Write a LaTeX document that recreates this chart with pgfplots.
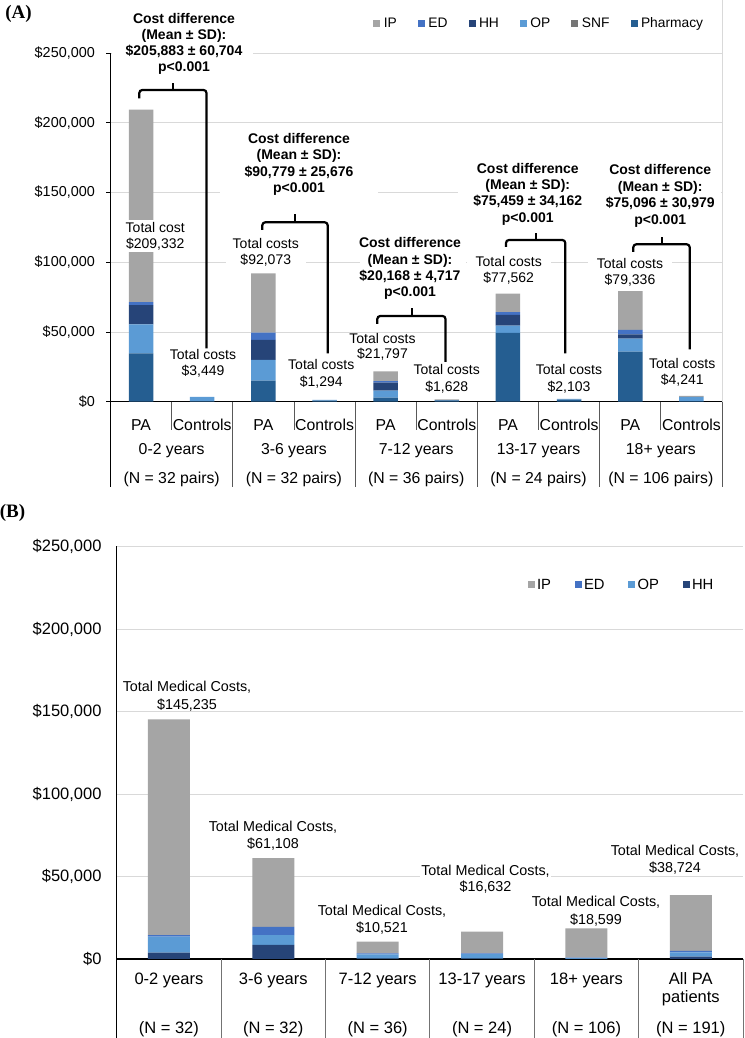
\documentclass[border=0pt]{standalone}
\usepackage{fontspec}
\setmainfont{Liberation Sans}
\newfontfamily\panelfont{Liberation Serif}
\usepackage{pgfplots}
\usepackage{pgfplotstable}
\pgfplotsset{compat=1.18}

% cost category colours
\definecolor{cIP}{HTML}{A5A5A5}
\definecolor{cED}{HTML}{4472C4}
\definecolor{cHH}{HTML}{264478}
\definecolor{cOP}{HTML}{5B9BD5}
\definecolor{cSNF}{HTML}{767676}
\definecolor{cRx}{HTML}{255E91}
\definecolor{gridc}{HTML}{D9D9D9}
\definecolor{sepc}{HTML}{595959}

% font sizes (1pt = 1 output pixel)
\newcommand\fA{\fontsize{14}{16.4}\selectfont}
\newcommand\fAt{\fontsize{14.4}{17}\selectfont}
\newcommand\fAx{\fontsize{15.8}{19}\selectfont}
\newcommand\fAl{\fontsize{13.8}{16}\selectfont}
\newcommand\fB{\fontsize{14.35}{17}\selectfont}
\newcommand\fBt{\fontsize{16.5}{19}\selectfont}
\newcommand\fBx{\fontsize{16.5}{19}\selectfont}
\newcommand\fBl{\fontsize{14.8}{17}\selectfont}
\newcommand\fP{\panelfont\bfseries\fontsize{19}{22}\selectfont}

\pgfplotsset{sqlegend/.style={legend image code/.code={\fill[##1] (0pt,-3.5pt) rectangle (7pt,3.5pt);}}}

% Panel A: mean costs per patient, PA vs matched controls (0..9 = PA/Controls per age group)
\pgfplotstableread{
x Rx OP HH ED SNF IP
0 34700 20800 13700 2100 0 138032
1 300 3149 0 0 0 0
2 15100 14800 14400 5200 0 42573
3 700 594 0 0 0 0
4 2900 5000 5700 1200 0 6997
5 900 300 0 0 0 428
6 49300 5200 7700 2100 0 13262
7 1500 603 0 0 0 0
8 35900 9300 3100 3100 0 27936
9 350 3191 0 0 0 700
}\dataA

% Panel B: total medical costs of PA patients by age group
\pgfplotstableread{
x HH OP ED IP
0 3800 9700 1000 130735
1 8500 6000 4900 41708
2 300 2500 600 7121
3 200 2700 500 13232
4 100 400 300 17799
5 1400 2600 850 33874
}\dataB

\begin{document}
\begin{tikzpicture}
\path[use as bounding box] (0pt,0pt) rectangle (744pt,1038pt);

%----------------------------------------------------------- panel A
\begin{axis}[
  at={(110.5pt,636.3pt)}, anchor=south west,
  scale only axis, width=611.5pt, height=348.7pt,
  xmin=-0.5, xmax=9.5, ymin=0, ymax=250000,
  enlarge x limits=false, enlarge y limits=false,
  scaled y ticks=false,
  ybar stacked, bar width=24.5pt,
  axis lines*=left, axis line style={black, line width=0.9pt},
  ytick={0,50000,100000,150000,200000,250000},
  yticklabels={{\$0},{\$50,000},{\$100,000},{\$150,000},{\$200,000},{\$250,000}},
  yticklabel style={font=\fAt, anchor=east, inner sep=0pt, xshift=-11.5pt},
  ymajorgrids, grid style={draw=gridc, line width=0.8pt},
  tick align=outside, major tick length=4pt,
  ytick style={black, line width=0.8pt},
  xtick={0,...,9},
  xticklabels={PA,Controls,PA,Controls,PA,Controls,PA,Controls,PA,Controls},
  xtick style={draw=none},
  xticklabel style={font=\fAx, anchor=base, inner sep=0pt, yshift=-24.8pt},
  clip=false,
  legend columns=-1,
  legend style={at={(0.4298,1.0852)}, anchor=west, draw=none, fill=none,
    inner sep=0pt, outer sep=0pt, font=\fAl, nodes={inner sep=0pt},
    /tikz/every even column/.append style={column sep=21pt},
    /tikz/every odd column/.append style={column sep=3.5pt}},
]
\addlegendimage{sqlegend, fill=cIP, draw=none}\addlegendentry{IP}
\addlegendimage{sqlegend, fill=cED, draw=none}\addlegendentry{ED}
\addlegendimage{sqlegend, fill=cHH, draw=none}\addlegendentry{HH}
\addlegendimage{sqlegend, fill=cOP, draw=none}\addlegendentry{OP}
\addlegendimage{sqlegend, fill=cSNF, draw=none}\addlegendentry{SNF}
\addlegendimage{sqlegend, fill=cRx, draw=none}\addlegendentry{Pharmacy}

\addplot[fill=cRx, draw=none, forget plot] table[x=x, y=Rx] {\dataA};
\addplot[fill=cOP, draw=none, forget plot] table[x=x, y=OP] {\dataA};
\addplot[fill=cHH, draw=none, forget plot] table[x=x, y=HH] {\dataA};
\addplot[fill=cED, draw=none, forget plot] table[x=x, y=ED] {\dataA};
\addplot[fill=cSNF, draw=none, forget plot] table[x=x, y=SNF] {\dataA};
\addplot[fill=cIP, draw=none, forget plot] table[x=x, y=IP] {\dataA};

% break in the tallest bar
\fill[white] (axis cs:-0.25,104500) rectangle (axis cs:0.25,134400);

% category table below the axis
\draw[sepc, line width=0.9pt] (axis cs:0.5,0) -- ++(0pt,-28.3pt);
\draw[sepc, line width=0.9pt] (axis cs:2.5,0) -- ++(0pt,-28.3pt);
\draw[sepc, line width=0.9pt] (axis cs:4.5,0) -- ++(0pt,-28.3pt);
\draw[sepc, line width=0.9pt] (axis cs:6.5,0) -- ++(0pt,-28.3pt);
\draw[sepc, line width=0.9pt] (axis cs:8.5,0) -- ++(0pt,-28.3pt);
\draw[black, line width=0.9pt] (axis cs:-0.5,0) -- ++(0pt,-85.3pt);
\draw[sepc, line width=0.9pt] (axis cs:1.5,0) -- ++(0pt,-85.3pt);
\draw[sepc, line width=0.9pt] (axis cs:3.5,0) -- ++(0pt,-85.3pt);
\draw[sepc, line width=0.9pt] (axis cs:5.5,0) -- ++(0pt,-85.3pt);
\draw[sepc, line width=0.9pt] (axis cs:7.5,0) -- ++(0pt,-85.3pt);
\draw[sepc, line width=0.9pt] (axis cs:9.5,0) -- ++(0pt,-85.3pt);
\node[font=\fAx, anchor=base, yshift=-52.8pt] at (axis cs:0.5,0) {0-2 years};
\node[font=\fAx, anchor=base, yshift=-52.8pt] at (axis cs:2.5,0) {3-6 years};
\node[font=\fAx, anchor=base, yshift=-52.8pt] at (axis cs:4.5,0) {7-12 years};
\node[font=\fAx, anchor=base, yshift=-52.8pt] at (axis cs:6.5,0) {13-17 years};
\node[font=\fAx, anchor=base, yshift=-52.8pt] at (axis cs:8.5,0) {18+ years};
\node[font=\fAx, anchor=base, yshift=-81.8pt] at (axis cs:0.5,0) {(N = 32 pairs)};
\node[font=\fAx, anchor=base, yshift=-81.8pt] at (axis cs:2.5,0) {(N = 32 pairs)};
\node[font=\fAx, anchor=base, yshift=-81.8pt] at (axis cs:4.5,0) {(N = 36 pairs)};
\node[font=\fAx, anchor=base, yshift=-81.8pt] at (axis cs:6.5,0) {(N = 24 pairs)};
\node[font=\fAx, anchor=base, yshift=-81.8pt] at (axis cs:8.5,0) {(N = 106 pairs)};
\end{axis}

%----------------------------------------------------------- panel B
\begin{axis}[
  at={(116.7pt,79pt)}, anchor=south west,
  scale only axis, width=626.3pt, height=412.5pt,
  xmin=-0.5, xmax=5.5, ymin=0, ymax=250000,
  enlarge x limits=false, enlarge y limits=false,
  scaled y ticks=false,
  ybar stacked, bar width=42pt,
  axis lines*=left, axis line style={black, line width=1.1pt},
  ytick={0,50000,100000,150000,200000,250000},
  yticklabels={{\$0},{\$50,000},{\$100,000},{\$150,000},{\$200,000},{\$250,000}},
  yticklabel style={font=\fBt, anchor=east, inner sep=0pt, xshift=-15pt},
  ymajorgrids, grid style={draw=gridc, line width=0.8pt},
  major tick length=0pt, tick style={draw=none},
  xtick={0,...,5},
  xticklabels={0-2 years,3-6 years,7-12 years,13-17 years,18+ years,All PA},
  xticklabel style={font=\fBx, anchor=base, inner sep=0pt, yshift=-26pt},
  clip=false,
  legend columns=-1,
  legend style={at={(0.6561,0.9067)}, anchor=west, draw=none, fill=none,
    inner sep=0pt, outer sep=0pt, font=\fBl, nodes={inner sep=0pt},
    /tikz/every even column/.append style={column sep=23.5pt},
    /tikz/every odd column/.append style={column sep=2.5pt}},
]
\addlegendimage{sqlegend, fill=cIP, draw=none}\addlegendentry{IP}
\addlegendimage{sqlegend, fill=cED, draw=none}\addlegendentry{ED}
\addlegendimage{sqlegend, fill=cOP, draw=none}\addlegendentry{OP}
\addlegendimage{sqlegend, fill=cHH, draw=none}\addlegendentry{HH}

\addplot[fill=cHH, draw=none, forget plot] table[x=x, y=HH] {\dataB};
\addplot[fill=cOP, draw=none, forget plot] table[x=x, y=OP] {\dataB};
\addplot[fill=cED, draw=none, forget plot] table[x=x, y=ED] {\dataB};
\addplot[fill=cIP, draw=none, forget plot] table[x=x, y=IP] {\dataB};

\draw[black, line width=1.1pt] (axis cs:-0.5,0) -- ++(0pt,-79pt);
\draw[black!55, line width=1pt] (axis cs:0.5,0) -- ++(0pt,-79pt);
\draw[black!55, line width=1pt] (axis cs:1.5,0) -- ++(0pt,-79pt);
\draw[black!55, line width=1pt] (axis cs:2.5,0) -- ++(0pt,-79pt);
\draw[black!55, line width=1pt] (axis cs:3.5,0) -- ++(0pt,-79pt);
\draw[black!55, line width=1pt] (axis cs:4.5,0) -- ++(0pt,-79pt);
\draw[black!55, line width=1pt] (axis cs:5.5,0) -- ++(0pt,-79pt);
\node[font=\fBx, anchor=base, yshift=-43.4pt] at (axis cs:5,0) {patients};
\node[font=\fBx, anchor=base, yshift=-74.7pt] at (axis cs:0,0) {(N = 32)};
\node[font=\fBx, anchor=base, yshift=-74.7pt] at (axis cs:1,0) {(N = 32)};
\node[font=\fBx, anchor=base, yshift=-74.7pt] at (axis cs:2,0) {(N = 36)};
\node[font=\fBx, anchor=base, yshift=-74.7pt] at (axis cs:3,0) {(N = 24)};
\node[font=\fBx, anchor=base, yshift=-74.7pt] at (axis cs:4,0) {(N = 106)};
\node[font=\fBx, anchor=base, yshift=-74.7pt] at (axis cs:5,0) {(N = 191)};
\end{axis}

%----------------------------------------------------------- annotations (y measured downwards)
\begin{scope}[x=1pt, y=-1pt, shift={(0pt,1038pt)}]
\node[font=\fP, anchor=base] at (18.5,18.2) {(A)};
\node[font=\fP, anchor=base] at (12.5,517.9) {(B)};
\draw[gridc, line width=0.8pt] (722,0) -- (722,401.7);

% text box backgrounds
\fill[white] (112,8) rectangle (253,76);
\fill[white] (220,128) rectangle (378,197);
\fill[white] (360,234) rectangle (466,300);
\fill[white] (458,160) rectangle (598,226);
\fill[white] (590,162) rectangle (721,228);
\fill[white] (120,220) rectangle (191,252);
\fill[white] (163,348) rectangle (243,382);
\fill[white] (226,236) rectangle (306,270);
\fill[white] (281,358) rectangle (361,392);
\fill[white] (342,333) rectangle (422,364);
\fill[white] (407,363) rectangle (487,397);
\fill[white] (467,254) rectangle (551,290);
\fill[white] (529,363) rectangle (609,397);
\fill[white] (588,256) rectangle (672,290);
\fill[white] (644,357) rectangle (720,391);
\fill[white] (420,861) rectangle (551,896);

% cost differences
\begin{scope}[every node/.style={font=\fA\bfseries, anchor=base}]
\node at (184,23.3) {Cost difference};
\node at (184,39.4) {(Mean ± SD):};
\node at (184,55.5) {\$205,883 ± 60,704};
\node at (184,71.6) {p<0.001};
\node at (299,143.3) {Cost difference};
\node at (299,159.8) {(Mean ± SD):};
\node at (299,176.2) {\$90,779 ± 25,676};
\node at (299,192.7) {p<0.001};
\node at (410,248) {Cost difference};
\node at (410,264.3) {(Mean ± SD):};
\node at (410,280.7) {\$20,168 ± 4,717};
\node at (410,297) {p<0.001};
\node at (527.8,173.3) {Cost difference};
\node at (527.8,189.6) {(Mean ± SD):};
\node at (527.8,206) {\$75,459 ± 34,162};
\node at (527.8,222.3) {p<0.001};
\node at (660.2,175) {Cost difference};
\node at (660.2,191.4) {(Mean ± SD):};
\node at (660.2,207.9) {\$75,096 ± 30,979};
\node at (660.2,224.3) {p<0.001};
\end{scope}

% totals
\begin{scope}[every node/.style={font=\fA, anchor=base}]
\node at (155.3,232.3) {Total cost};   \node at (155.3,248.3) {\$209,332};
\node at (203,360) {Total costs};      \node at (203,376) {\$3,449};
\node at (265.8,248.3) {Total costs};  \node at (265.8,264.3) {\$92,073};
\node at (321.3,370) {Total costs};    \node at (321.3,386.7) {\$1,294};
\node at (382.5,343.3) {Total costs};  \node at (382.5,359) {\$21,797};
\node at (446.7,375) {Total costs};    \node at (446.7,391.7) {\$1,628};
\node at (508.7,266.7) {Total costs};  \node at (508.7,283) {\$77,562};
\node at (569,375) {Total costs};      \node at (569,391.3) {\$2,103};
\node at (630,268.3) {Total costs};    \node at (630,284.3) {\$79,336};
\node at (682.2,369) {Total costs};    \node at (682.2,385) {\$4,241};
\end{scope}

% brackets
\begin{scope}[line width=2.2pt, rounded corners=3pt]
\draw (139.3,98.3) |- (206.5,90) -- (206.5,348.3);
\draw[rounded corners=0pt] (173.3,90) -- (173.3,83.3);
\draw (262.3,230) |- (327.7,222.3) -- (327.7,353.3);
\draw[rounded corners=0pt] (295,222.3) -- (295,214);
\draw (377.3,324) |- (445.5,316) -- (445.5,362);
\draw[rounded corners=0pt] (411.7,316) -- (411.7,308.3);
\draw (506,247) |- (565.3,240) -- (565.3,353.3);
\draw[rounded corners=0pt] (535.7,240) -- (535.7,233.3);
\draw (633.3,252) |- (689.7,244.3) -- (689.7,349.3);
\draw[rounded corners=0pt] (661.7,244.3) -- (661.7,236.7);
\end{scope}

% panel B totals
\begin{scope}[every node/.style={font=\fB, anchor=base}]
\node at (187,691.8) {Total Medical Costs,};   \node at (187,709.6) {\$145,235};
\node at (273,831.1) {Total Medical Costs,};   \node at (273,848.4) {\$61,108};
\node at (382,915.1) {Total Medical Costs,};   \node at (382,932.8) {\$10,521};
\node at (485.5,875.1) {Total Medical Costs,}; \node at (485.5,891.8) {\$16,632};
\node at (596,906.8) {Total Medical Costs,};   \node at (596,924.1) {\$18,599};
\node at (675,855.8) {Total Medical Costs,};   \node at (675,872.4) {\$38,724};
\end{scope}
\end{scope}
\end{tikzpicture}
\end{document}
